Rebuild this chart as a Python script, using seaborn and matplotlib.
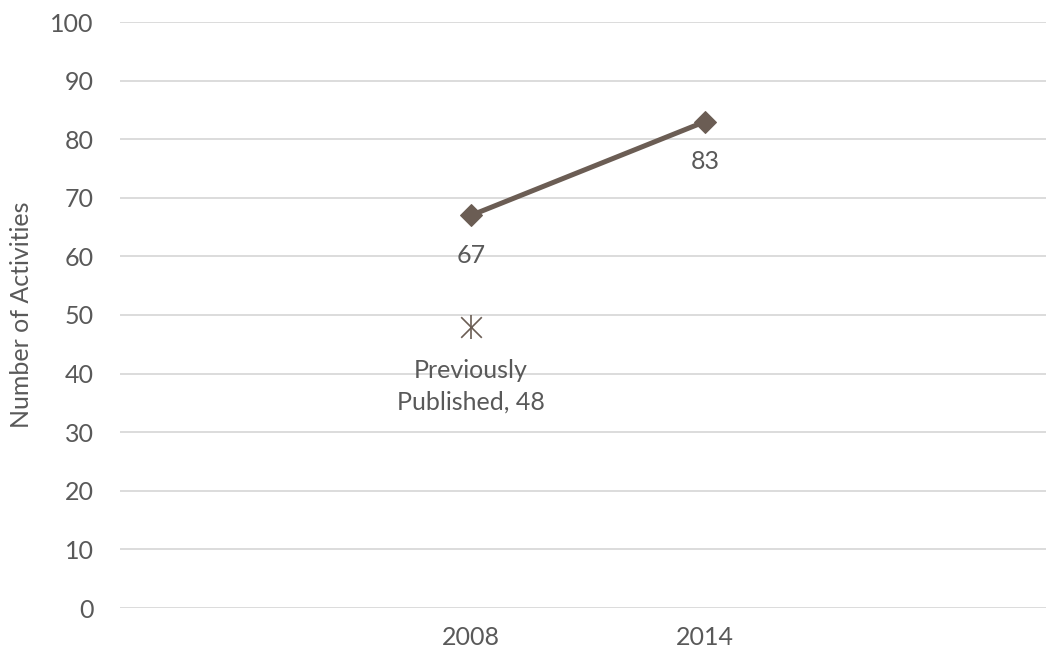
import matplotlib
matplotlib.use("Agg")
import matplotlib.pyplot as plt
import seaborn as sns
import pandas as pd

# data
years = ["2008", "2014"]
activities = [67, 83]
prev_year = ["2008"]
prev_value = [48]
prev_label = "Previously\nPublished, 48"

sns.set_style("white")
plt.rcParams["font.family"] = ["Lato", "DejaVu Sans"]

line_col = "#6b5d54"
txt_col = "#595959"
fs = 18

fig = plt.figure(figsize=(10.46, 6.56), dpi=100)
ax = fig.add_axes([120 / 1046, 48 / 656, 936 / 1046, 586 / 656])

df = pd.DataFrame({"year": years, "n": activities})
sns.lineplot(data=df, x="year", y="n", ax=ax, color=line_col, linewidth=3.6,
             marker="D", markersize=11, markeredgecolor=line_col)

# previously published point (asterisk = x + vertical bar)
ax.scatter(prev_year, prev_value, marker="x", s=220, color=line_col, linewidths=1.2, zorder=4)
ax.scatter(prev_year, prev_value, marker="|", s=320, color=line_col, linewidths=1.2, zorder=4)

for yr, v in zip(years, activities):
    ax.annotate(str(v), (yr, v), xytext=(0, -40), textcoords="offset pixels",
                ha="center", va="center", fontsize=fs, color=txt_col)
ax.annotate(prev_label, (prev_year[0], prev_value[0]), xytext=(0, -60), textcoords="offset pixels",
            ha="center", va="center", fontsize=fs, color=txt_col, linespacing=1.45)

ax.set_xlim(-1.5, 2.5)
ax.set_ylim(0, 100)
ax.set_yticks(range(0, 101, 10))
ax.grid(axis="y", color="#d9d9d9", linewidth=1.3)
ax.grid(axis="x", visible=False)
for s in ax.spines.values():
    s.set_visible(False)
ax.tick_params(axis="both", length=0, labelsize=fs, labelcolor=txt_col)
ax.tick_params(axis="y", pad=19)
ax.tick_params(axis="x", pad=13)
ax.set_xlabel("")
ax.set_ylabel("Number of Activities", fontsize=fs, color=txt_col, labelpad=12)

fig.savefig("out.png", dpi=100)
